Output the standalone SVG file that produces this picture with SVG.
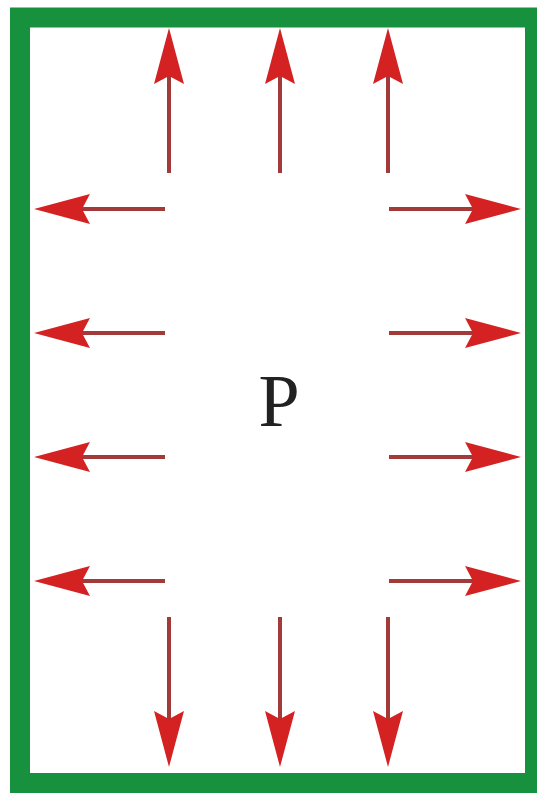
<svg xmlns="http://www.w3.org/2000/svg" width="537" height="800" viewBox="0 0 537 800">
<defs>
<style>
.frame{fill:none;stroke:#17913d;stroke-width:20}
.arr{stroke:#a33a3a;stroke-width:4;fill:none;marker-end:url(#head)}
.lbl{font-family:"Liberation Serif","DejaVu Serif",serif;font-size:74px;fill:#222}
</style>
<marker id="head" viewBox="0 0 56 30" refX="46" refY="15" markerWidth="56" markerHeight="30" markerUnits="userSpaceOnUse" orient="auto">
<path d="M0,0 L56,15 L0,30 L8,15 Z" fill="#d42222"/>
</marker>
</defs>
<rect width="537" height="800" fill="#ffffff"/>
<g id="frame"><rect class="frame" x="20" y="17.5" width="515" height="765.5"/></g>
<g id="label"><text class="lbl" x="279" y="426" text-anchor="middle">P</text></g>
<g id="connectors">
<line class="arr" x1="169" y1="173" x2="169" y2="38"/>
<line class="arr" x1="280" y1="173" x2="280" y2="38"/>
<line class="arr" x1="388" y1="173" x2="388" y2="38"/>
<line class="arr" x1="165" y1="209" x2="44" y2="209"/>
<line class="arr" x1="165" y1="333" x2="44" y2="333"/>
<line class="arr" x1="165" y1="457" x2="44" y2="457"/>
<line class="arr" x1="165" y1="581" x2="44" y2="581"/>
<line class="arr" x1="389" y1="209" x2="511" y2="209"/>
<line class="arr" x1="389" y1="333" x2="511" y2="333"/>
<line class="arr" x1="389" y1="457" x2="511" y2="457"/>
<line class="arr" x1="389" y1="581" x2="511" y2="581"/>
<line class="arr" x1="169" y1="617" x2="169" y2="757"/>
<line class="arr" x1="280" y1="617" x2="280" y2="757"/>
<line class="arr" x1="388" y1="617" x2="388" y2="757"/>
</g>
</svg>
